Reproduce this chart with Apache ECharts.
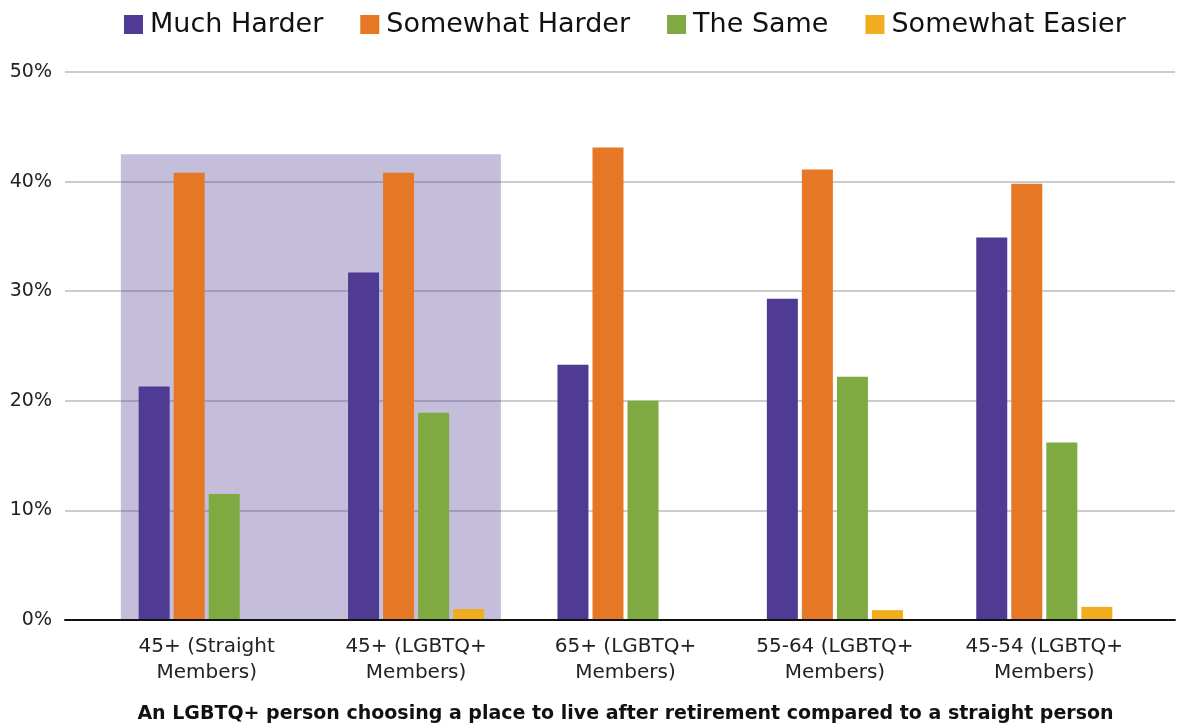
<!DOCTYPE html>
<html><head><meta charset="utf-8">
<script src="https://cdn.jsdelivr.net/npm/echarts@6/dist/echarts.min.js"></script>
<style>html,body{margin:0;padding:0;background:#fff}#c{width:1182px;height:726px}</style>
</head><body><div id="c"></div>
<script>
const categories = ['45+ (Straight\nMembers)', '45+ (LGBTQ+\nMembers)', '65+ (LGBTQ+\nMembers)', '55-64 (LGBTQ+\nMembers)', '45-54 (LGBTQ+\nMembers)'];
const muchHarder = [21.3, 31.7, 23.3, 29.3, 34.9];
const somewhatHarder = [40.8, 40.8, 43.1, 41.1, 39.8];
const theSame = [11.5, 18.9, 20.0, 22.2, 16.2];
const somewhatEasier = [0, 1.0, 0, 0.9, 1.2];
const yTicks = [0, 10, 20, 30, 40, 50];
const highlight = {from: -0.41, to: 1.405, top: 42.5};
const axisTitle = 'An LGBTQ+ person choosing a place to live after retirement compared to a straight person';

const FONT = 'DejaVu Sans';
const colors = ['#4f3b93', '#e57725', '#7eaa41', '#f0ae1e'];
const chart = echarts.init(document.getElementById('c'));
function bar(name, data, color) {
  return {type: 'bar', name: name, data: data, xAxisIndex: 1, yAxisIndex: 1,
          barWidth: 31, barGap: '13%', z: 3, itemStyle: {color: color}};
}
chart.setOption({
  animation: false,
  textStyle: {fontFamily: FONT},
  color: colors,
  legend: {
    top: 6, left: 119, itemWidth: 19, itemHeight: 19, itemGap: 37,
    icon: 'rect',
    textStyle: {fontFamily: FONT, fontSize: 27, color: '#111', padding: [0, 0, 0, 2]},
    data: ['Much Harder', 'Somewhat Harder', 'The Same', 'Somewhat Easier']
  },
  grid: [
    {left: 65, right: 7, top: 72, bottom: 106, containLabel: false, outerBoundsMode: 'none'},
    {left: 102, right: 33, top: 72, bottom: 106, containLabel: false, outerBoundsMode: 'none'}
  ],
  xAxis: [
    {gridIndex: 0, type: 'value', min: 0, max: 1, z: 6,
     axisLine: {show: true, lineStyle: {color: '#111', width: 2}},
     axisTick: {show: false}, axisLabel: {show: false}, splitLine: {show: false}},
    {gridIndex: 1, type: 'category', data: categories,
     axisLine: {show: false}, axisTick: {show: false},
     axisLabel: {fontFamily: FONT, fontSize: 20, color: '#222', lineHeight: 26, margin: 14, interval: 0},
     name: axisTitle, nameLocation: 'middle', nameGap: 85,
     nameTextStyle: {fontFamily: FONT, fontSize: 19, fontWeight: 'bold', color: '#111'}},
    {gridIndex: 1, type: 'value', min: -0.5, max: 4.5, show: false}
  ],
  yAxis: [
    {gridIndex: 0, type: 'value', min: yTicks[0], max: yTicks[yTicks.length - 1], interval: 10,
     axisLine: {show: false}, axisTick: {show: false},
     axisLabel: {formatter: '{value}%', fontFamily: FONT, fontSize: 19, color: '#222', margin: 13},
     splitLine: {lineStyle: {color: '#cccccc', width: 2}}},
    {gridIndex: 1, type: 'value', min: 0, max: 50, show: false}
  ],
  series: [
    bar('Much Harder', muchHarder, colors[0]),
    bar('Somewhat Harder', somewhatHarder, colors[1]),
    bar('The Same', theSame, colors[2]),
    bar('Somewhat Easier', somewhatEasier, colors[3]),
    {type: 'line', xAxisIndex: 2, yAxisIndex: 1, data: [], z: 1, silent: true,
     markArea: {silent: true, itemStyle: {color: 'rgba(79,59,147,0.33)'},
       data: [[{xAxis: highlight.from, yAxis: 0}, {xAxis: highlight.to, yAxis: highlight.top}]]}}
  ]
});
</script></body></html>
